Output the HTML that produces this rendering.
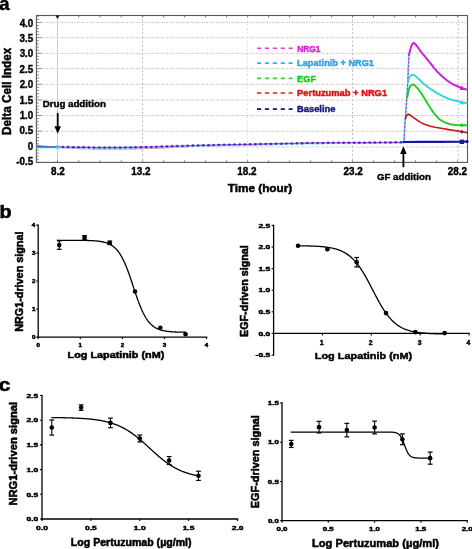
<!DOCTYPE html>
<html><head><meta charset="utf-8"><style>
html,body{margin:0;padding:0;background:#fff;}
body{width:472px;height:549px;overflow:hidden;font-family:"Liberation Sans",sans-serif;}
svg{display:block;will-change:transform;}
</style></head><body>
<svg width="472" height="549" viewBox="0 0 472 549">
<defs><filter id="soft" filterUnits="userSpaceOnUse" x="0" y="0" width="472" height="549"><feGaussianBlur stdDeviation="0.35"/></filter></defs>
<rect width="472" height="549" fill="#fff"/>
<g filter="url(#soft)">
<line x1="41.40" y1="22.40" x2="467.50" y2="22.40" stroke="#b2b2b2" stroke-width="0.85" stroke-dasharray="1.8 1.2 0.8 1.2"/>
<line x1="41.40" y1="37.70" x2="467.50" y2="37.70" stroke="#b2b2b2" stroke-width="0.85" stroke-dasharray="1.8 1.2 0.8 1.2"/>
<line x1="41.40" y1="53.30" x2="467.50" y2="53.30" stroke="#b2b2b2" stroke-width="0.85" stroke-dasharray="1.8 1.2 0.8 1.2"/>
<line x1="41.40" y1="68.60" x2="467.50" y2="68.60" stroke="#b2b2b2" stroke-width="0.85" stroke-dasharray="1.8 1.2 0.8 1.2"/>
<line x1="41.40" y1="84.30" x2="467.50" y2="84.30" stroke="#b2b2b2" stroke-width="0.85" stroke-dasharray="1.8 1.2 0.8 1.2"/>
<line x1="41.40" y1="100.00" x2="467.50" y2="100.00" stroke="#b2b2b2" stroke-width="0.85" stroke-dasharray="1.8 1.2 0.8 1.2"/>
<line x1="41.40" y1="115.50" x2="467.50" y2="115.50" stroke="#b2b2b2" stroke-width="0.85" stroke-dasharray="1.8 1.2 0.8 1.2"/>
<line x1="41.40" y1="131.20" x2="467.50" y2="131.20" stroke="#b2b2b2" stroke-width="0.85" stroke-dasharray="1.8 1.2 0.8 1.2"/>
<line x1="41.40" y1="146.90" x2="467.50" y2="146.90" stroke="#b2b2b2" stroke-width="0.85" stroke-dasharray="1.8 1.2 0.8 1.2"/>
<line x1="142.60" y1="15.50" x2="142.60" y2="162.40" stroke="#a8a8a8" stroke-width="0.9" stroke-dasharray="1.6 2.6"/>
<line x1="247.60" y1="15.50" x2="247.60" y2="162.40" stroke="#d4d4d4" stroke-width="0.9" stroke-dasharray="1.6 2.6"/>
<line x1="352.50" y1="15.50" x2="352.50" y2="162.40" stroke="#a8a8a8" stroke-width="0.9" stroke-dasharray="1.6 2.6"/>
<line x1="458.20" y1="15.50" x2="458.20" y2="162.40" stroke="#a8a8a8" stroke-width="0.9" stroke-dasharray="1.6 2.6"/>
<line x1="57.50" y1="15.50" x2="57.50" y2="162.40" stroke="#cccccc" stroke-width="1" />
<line x1="36.40" y1="162.40" x2="41.40" y2="162.40" stroke="#7a7a7a" stroke-width="0.9" />
<line x1="36.40" y1="159.30" x2="38.90" y2="159.30" stroke="#7a7a7a" stroke-width="0.9" />
<line x1="36.40" y1="156.20" x2="38.90" y2="156.20" stroke="#7a7a7a" stroke-width="0.9" />
<line x1="36.40" y1="153.10" x2="38.90" y2="153.10" stroke="#7a7a7a" stroke-width="0.9" />
<line x1="36.40" y1="150.00" x2="38.90" y2="150.00" stroke="#7a7a7a" stroke-width="0.9" />
<line x1="36.40" y1="146.90" x2="41.40" y2="146.90" stroke="#7a7a7a" stroke-width="0.9" />
<line x1="36.40" y1="143.76" x2="38.90" y2="143.76" stroke="#7a7a7a" stroke-width="0.9" />
<line x1="36.40" y1="140.62" x2="38.90" y2="140.62" stroke="#7a7a7a" stroke-width="0.9" />
<line x1="36.40" y1="137.48" x2="38.90" y2="137.48" stroke="#7a7a7a" stroke-width="0.9" />
<line x1="36.40" y1="134.34" x2="38.90" y2="134.34" stroke="#7a7a7a" stroke-width="0.9" />
<line x1="36.40" y1="131.20" x2="41.40" y2="131.20" stroke="#7a7a7a" stroke-width="0.9" />
<line x1="36.40" y1="128.06" x2="38.90" y2="128.06" stroke="#7a7a7a" stroke-width="0.9" />
<line x1="36.40" y1="124.92" x2="38.90" y2="124.92" stroke="#7a7a7a" stroke-width="0.9" />
<line x1="36.40" y1="121.78" x2="38.90" y2="121.78" stroke="#7a7a7a" stroke-width="0.9" />
<line x1="36.40" y1="118.64" x2="38.90" y2="118.64" stroke="#7a7a7a" stroke-width="0.9" />
<line x1="36.40" y1="115.50" x2="41.40" y2="115.50" stroke="#7a7a7a" stroke-width="0.9" />
<line x1="36.40" y1="112.40" x2="38.90" y2="112.40" stroke="#7a7a7a" stroke-width="0.9" />
<line x1="36.40" y1="109.30" x2="38.90" y2="109.30" stroke="#7a7a7a" stroke-width="0.9" />
<line x1="36.40" y1="106.20" x2="38.90" y2="106.20" stroke="#7a7a7a" stroke-width="0.9" />
<line x1="36.40" y1="103.10" x2="38.90" y2="103.10" stroke="#7a7a7a" stroke-width="0.9" />
<line x1="36.40" y1="100.00" x2="41.40" y2="100.00" stroke="#7a7a7a" stroke-width="0.9" />
<line x1="36.40" y1="96.86" x2="38.90" y2="96.86" stroke="#7a7a7a" stroke-width="0.9" />
<line x1="36.40" y1="93.72" x2="38.90" y2="93.72" stroke="#7a7a7a" stroke-width="0.9" />
<line x1="36.40" y1="90.58" x2="38.90" y2="90.58" stroke="#7a7a7a" stroke-width="0.9" />
<line x1="36.40" y1="87.44" x2="38.90" y2="87.44" stroke="#7a7a7a" stroke-width="0.9" />
<line x1="36.40" y1="84.30" x2="41.40" y2="84.30" stroke="#7a7a7a" stroke-width="0.9" />
<line x1="36.40" y1="81.16" x2="38.90" y2="81.16" stroke="#7a7a7a" stroke-width="0.9" />
<line x1="36.40" y1="78.02" x2="38.90" y2="78.02" stroke="#7a7a7a" stroke-width="0.9" />
<line x1="36.40" y1="74.88" x2="38.90" y2="74.88" stroke="#7a7a7a" stroke-width="0.9" />
<line x1="36.40" y1="71.74" x2="38.90" y2="71.74" stroke="#7a7a7a" stroke-width="0.9" />
<line x1="36.40" y1="68.60" x2="41.40" y2="68.60" stroke="#7a7a7a" stroke-width="0.9" />
<line x1="36.40" y1="65.54" x2="38.90" y2="65.54" stroke="#7a7a7a" stroke-width="0.9" />
<line x1="36.40" y1="62.48" x2="38.90" y2="62.48" stroke="#7a7a7a" stroke-width="0.9" />
<line x1="36.40" y1="59.42" x2="38.90" y2="59.42" stroke="#7a7a7a" stroke-width="0.9" />
<line x1="36.40" y1="56.36" x2="38.90" y2="56.36" stroke="#7a7a7a" stroke-width="0.9" />
<line x1="36.40" y1="53.30" x2="41.40" y2="53.30" stroke="#7a7a7a" stroke-width="0.9" />
<line x1="36.40" y1="50.18" x2="38.90" y2="50.18" stroke="#7a7a7a" stroke-width="0.9" />
<line x1="36.40" y1="47.06" x2="38.90" y2="47.06" stroke="#7a7a7a" stroke-width="0.9" />
<line x1="36.40" y1="43.94" x2="38.90" y2="43.94" stroke="#7a7a7a" stroke-width="0.9" />
<line x1="36.40" y1="40.82" x2="38.90" y2="40.82" stroke="#7a7a7a" stroke-width="0.9" />
<line x1="36.40" y1="37.70" x2="41.40" y2="37.70" stroke="#7a7a7a" stroke-width="0.9" />
<line x1="36.40" y1="34.64" x2="38.90" y2="34.64" stroke="#7a7a7a" stroke-width="0.9" />
<line x1="36.40" y1="31.58" x2="38.90" y2="31.58" stroke="#7a7a7a" stroke-width="0.9" />
<line x1="36.40" y1="28.52" x2="38.90" y2="28.52" stroke="#7a7a7a" stroke-width="0.9" />
<line x1="36.40" y1="25.46" x2="38.90" y2="25.46" stroke="#7a7a7a" stroke-width="0.9" />
<line x1="36.40" y1="22.40" x2="41.40" y2="22.40" stroke="#7a7a7a" stroke-width="0.9" />
<line x1="36.40" y1="19.39" x2="38.90" y2="19.39" stroke="#7a7a7a" stroke-width="0.9" />
<line x1="36.40" y1="16.28" x2="38.90" y2="16.28" stroke="#7a7a7a" stroke-width="0.9" />
<line x1="57.50" y1="162.40" x2="57.50" y2="160.40" stroke="#707070" stroke-width="0.9" />
<line x1="57.50" y1="15.50" x2="57.50" y2="17.50" stroke="#707070" stroke-width="0.9" />
<line x1="78.75" y1="162.40" x2="78.75" y2="160.40" stroke="#707070" stroke-width="0.9" />
<line x1="78.75" y1="15.50" x2="78.75" y2="17.50" stroke="#707070" stroke-width="0.9" />
<line x1="100.00" y1="162.40" x2="100.00" y2="160.40" stroke="#707070" stroke-width="0.9" />
<line x1="100.00" y1="15.50" x2="100.00" y2="17.50" stroke="#707070" stroke-width="0.9" />
<line x1="121.25" y1="162.40" x2="121.25" y2="160.40" stroke="#707070" stroke-width="0.9" />
<line x1="121.25" y1="15.50" x2="121.25" y2="17.50" stroke="#707070" stroke-width="0.9" />
<line x1="142.60" y1="162.40" x2="142.60" y2="160.40" stroke="#707070" stroke-width="0.9" />
<line x1="142.60" y1="15.50" x2="142.60" y2="17.50" stroke="#707070" stroke-width="0.9" />
<line x1="163.60" y1="162.40" x2="163.60" y2="160.40" stroke="#707070" stroke-width="0.9" />
<line x1="163.60" y1="15.50" x2="163.60" y2="17.50" stroke="#707070" stroke-width="0.9" />
<line x1="184.60" y1="162.40" x2="184.60" y2="160.40" stroke="#707070" stroke-width="0.9" />
<line x1="184.60" y1="15.50" x2="184.60" y2="17.50" stroke="#707070" stroke-width="0.9" />
<line x1="205.60" y1="162.40" x2="205.60" y2="160.40" stroke="#707070" stroke-width="0.9" />
<line x1="205.60" y1="15.50" x2="205.60" y2="17.50" stroke="#707070" stroke-width="0.9" />
<line x1="226.60" y1="162.40" x2="226.60" y2="160.40" stroke="#707070" stroke-width="0.9" />
<line x1="226.60" y1="15.50" x2="226.60" y2="17.50" stroke="#707070" stroke-width="0.9" />
<line x1="247.60" y1="162.40" x2="247.60" y2="160.40" stroke="#707070" stroke-width="0.9" />
<line x1="247.60" y1="15.50" x2="247.60" y2="17.50" stroke="#707070" stroke-width="0.9" />
<line x1="268.60" y1="162.40" x2="268.60" y2="160.40" stroke="#707070" stroke-width="0.9" />
<line x1="268.60" y1="15.50" x2="268.60" y2="17.50" stroke="#707070" stroke-width="0.9" />
<line x1="289.60" y1="162.40" x2="289.60" y2="160.40" stroke="#707070" stroke-width="0.9" />
<line x1="289.60" y1="15.50" x2="289.60" y2="17.50" stroke="#707070" stroke-width="0.9" />
<line x1="310.60" y1="162.40" x2="310.60" y2="160.40" stroke="#707070" stroke-width="0.9" />
<line x1="310.60" y1="15.50" x2="310.60" y2="17.50" stroke="#707070" stroke-width="0.9" />
<line x1="331.60" y1="162.40" x2="331.60" y2="160.40" stroke="#707070" stroke-width="0.9" />
<line x1="331.60" y1="15.50" x2="331.60" y2="17.50" stroke="#707070" stroke-width="0.9" />
<line x1="352.60" y1="162.40" x2="352.60" y2="160.40" stroke="#707070" stroke-width="0.9" />
<line x1="352.60" y1="15.50" x2="352.60" y2="17.50" stroke="#707070" stroke-width="0.9" />
<line x1="373.60" y1="162.40" x2="373.60" y2="160.40" stroke="#707070" stroke-width="0.9" />
<line x1="373.60" y1="15.50" x2="373.60" y2="17.50" stroke="#707070" stroke-width="0.9" />
<line x1="394.60" y1="162.40" x2="394.60" y2="160.40" stroke="#707070" stroke-width="0.9" />
<line x1="394.60" y1="15.50" x2="394.60" y2="17.50" stroke="#707070" stroke-width="0.9" />
<line x1="415.60" y1="162.40" x2="415.60" y2="160.40" stroke="#707070" stroke-width="0.9" />
<line x1="415.60" y1="15.50" x2="415.60" y2="17.50" stroke="#707070" stroke-width="0.9" />
<line x1="436.60" y1="162.40" x2="436.60" y2="160.40" stroke="#707070" stroke-width="0.9" />
<line x1="436.60" y1="15.50" x2="436.60" y2="17.50" stroke="#707070" stroke-width="0.9" />
<line x1="457.60" y1="162.40" x2="457.60" y2="160.40" stroke="#707070" stroke-width="0.9" />
<line x1="457.60" y1="15.50" x2="457.60" y2="17.50" stroke="#707070" stroke-width="0.9" />
<rect x="36.4" y="15.5" width="431.1" height="146.9" fill="none" stroke="#5a5a5a" stroke-width="1.1"/>
<path d="M55.3,15.5 L59.7,15.5 L57.5,19 Z" fill="#111"/>
<polyline points="36.80,145.40 37.80,145.51 38.80,145.62 39.80,145.73 40.80,145.84 41.80,145.95 42.80,146.06 43.80,146.17 44.80,146.28 45.80,146.36 46.80,146.44 47.80,146.52 48.80,146.60 49.80,146.68 50.80,146.76 51.80,146.84 52.80,146.92 53.80,147.00 54.80,147.08 55.80,147.16 56.80,147.24 57.80,147.32 58.80,147.37 59.80,147.42 60.80,147.48 61.80,147.53 62.80,147.58 63.80,147.64 64.80,147.69 65.80,147.74 66.80,147.80 67.80,147.85 68.80,147.90 69.80,147.96 70.80,148.01 71.80,148.06 72.80,148.12 73.80,148.17 74.80,148.22 75.80,148.28 76.80,148.33 77.80,148.38 78.80,148.44 79.80,148.49 80.80,148.52 81.80,148.54 82.80,148.56 83.80,148.58 84.80,148.60 85.80,148.62 86.80,148.64 87.80,148.66 88.80,148.68 89.80,148.70 90.80,148.72 91.80,148.74 92.80,148.76 93.80,148.78 94.80,148.80 95.80,148.82 96.80,148.84 97.80,148.86 98.80,148.88 99.80,148.90 100.80,148.90 101.80,148.90 102.80,148.90 103.80,148.90 104.80,148.90 105.80,148.90 106.80,148.90 107.80,148.90 108.80,148.90 109.80,148.90 110.80,148.90 111.80,148.90 112.80,148.90 113.80,148.90 114.80,148.90 115.80,148.90 116.80,148.90 117.80,148.90 118.80,148.90 119.80,148.90 120.80,148.90 121.80,148.90 122.80,148.90 123.80,148.90 124.80,148.90 125.80,148.90 126.80,148.90 127.80,148.90 128.80,148.90 129.80,148.90 130.80,148.88 131.80,148.85 132.80,148.82 133.80,148.79 134.80,148.76 135.80,148.73 136.80,148.70 137.80,148.67 138.80,148.64 139.80,148.61 140.80,148.58 141.80,148.55 142.80,148.52 143.80,148.49 144.80,148.46 145.80,148.43 146.80,148.40 147.80,148.37 148.80,148.34 149.80,148.31 150.80,148.28 151.80,148.25 152.80,148.22 153.80,148.19 154.80,148.16 155.80,148.13 156.80,148.10 157.80,148.07 158.80,148.04 159.80,148.01 160.80,147.96 161.80,147.90 162.80,147.85 163.80,147.80 164.80,147.74 165.80,147.69 166.80,147.64 167.80,147.58 168.80,147.53 169.80,147.48 170.80,147.42 171.80,147.37 172.80,147.32 173.80,147.26 174.80,147.21 175.80,147.16 176.80,147.10 177.80,147.05 178.80,147.00 179.80,146.94 180.80,146.89 181.80,146.84 182.80,146.78 183.80,146.73 184.80,146.68 185.80,146.62 186.80,146.57 187.80,146.52 188.80,146.46 189.80,146.41 190.80,146.37 191.80,146.34 192.80,146.31 193.80,146.27 194.80,146.24 195.80,146.21 196.80,146.17 197.80,146.14 198.80,146.11 199.80,146.07 200.80,146.04 201.80,146.01 202.80,145.97 203.80,145.94 204.80,145.91 205.80,145.87 206.80,145.84 207.80,145.81 208.80,145.77 209.80,145.74 210.80,145.71 211.80,145.67 212.80,145.64 213.80,145.61 214.80,145.57 215.80,145.54 216.80,145.51 217.80,145.47 218.80,145.44 219.80,145.41 220.80,145.38 221.80,145.36 222.80,145.33 223.80,145.31 224.80,145.28 225.80,145.25 226.80,145.23 227.80,145.21 228.80,145.18 229.80,145.16 230.80,145.13 231.80,145.11 232.80,145.08 233.80,145.06 234.80,145.03 235.80,145.00 236.80,144.98 237.80,144.96 238.80,144.93 239.80,144.91 240.80,144.88 241.80,144.86 242.80,144.83 243.80,144.81 244.80,144.78 245.80,144.75 246.80,144.73 247.80,144.71 248.80,144.68 249.80,144.66 250.80,144.63 251.80,144.61 252.80,144.58 253.80,144.56 254.80,144.53 255.80,144.50 256.80,144.48 257.80,144.46 258.80,144.43 259.80,144.41 260.80,144.38 261.80,144.36 262.80,144.34 263.80,144.31 264.80,144.29 265.80,144.27 266.80,144.25 267.80,144.22 268.80,144.20 269.80,144.18 270.80,144.16 271.80,144.13 272.80,144.11 273.80,144.09 274.80,144.07 275.80,144.04 276.80,144.02 277.80,144.00 278.80,143.98 279.80,143.95 280.80,143.93 281.80,143.91 282.80,143.89 283.80,143.86 284.80,143.84 285.80,143.82 286.80,143.80 287.80,143.77 288.80,143.75 289.80,143.73 290.80,143.71 291.80,143.68 292.80,143.66 293.80,143.64 294.80,143.62 295.80,143.59 296.80,143.57 297.80,143.55 298.80,143.53 299.80,143.50 300.80,143.49 301.80,143.48 302.80,143.48 303.80,143.47 304.80,143.46 305.80,143.45 306.80,143.44 307.80,143.43 308.80,143.42 309.80,143.41 310.80,143.41 311.80,143.40 312.80,143.39 313.80,143.38 314.80,143.37 315.80,143.36 316.80,143.35 317.80,143.34 318.80,143.34 319.80,143.33 320.80,143.32 321.80,143.31 322.80,143.30 323.80,143.29 324.80,143.28 325.80,143.27 326.80,143.27 327.80,143.26 328.80,143.25 329.80,143.24 330.80,143.23 331.80,143.22 332.80,143.21 333.80,143.20 334.80,143.20 335.80,143.19 336.80,143.18 337.80,143.17 338.80,143.16 339.80,143.15 340.80,143.14 341.80,143.13 342.80,143.13 343.80,143.12 344.80,143.11 345.80,143.10 346.80,143.09 347.80,143.08 348.80,143.07 349.80,143.06 350.80,143.06 351.80,143.05 352.80,143.04 353.80,143.03 354.80,143.02 355.80,143.01 356.80,143.00 357.80,142.99 358.80,142.99 359.80,142.98 360.80,142.97 361.80,142.96 362.80,142.95 363.80,142.94 364.80,142.93 365.80,142.93 366.80,142.92 367.80,142.91 368.80,142.90 369.80,142.89 370.80,142.88 371.80,142.87 372.80,142.86 373.80,142.86 374.80,142.85 375.80,142.84 376.80,142.83 377.80,142.82 378.80,142.81 379.80,142.80 380.80,142.79 381.80,142.79 382.80,142.78 383.80,142.77 384.80,142.76 385.80,142.75 386.80,142.74 387.80,142.73 388.80,142.72 389.80,142.72 390.80,142.71 391.80,142.70 392.80,142.69 393.80,142.68 394.80,142.67 395.80,142.66 396.80,142.65 397.80,142.65 398.80,142.64 399.80,142.63 400.80,142.62 401.80,142.61 402.80,142.60" fill="none" stroke="#ec6a78" stroke-width="1.3" stroke-linejoin="round" stroke-linecap="round" />
<polyline points="36.80,147.80 37.80,147.80 38.80,147.79 39.80,147.79 40.80,147.78 41.80,147.78 42.80,147.77 43.80,147.77 44.80,147.76 45.80,147.76 46.80,147.75 47.80,147.75 48.80,147.74 49.80,147.74 50.80,147.73 51.80,147.73 52.80,147.72 53.80,147.72 54.80,147.71 55.80,147.71 56.80,147.70 57.80,147.71 58.80,147.72 59.80,147.74 60.80,147.76 61.80,147.78 62.80,147.79 63.80,147.81 64.80,147.83 65.80,147.85 66.80,147.87 67.80,147.88 68.80,147.90 69.80,147.92 70.80,147.94 71.80,147.95 72.80,147.97 73.80,147.99 74.80,148.01 75.80,148.03 76.80,148.04 77.80,148.06 78.80,148.08 79.80,148.10 80.80,148.12 81.80,148.13 82.80,148.15 83.80,148.17 84.80,148.19 85.80,148.21 86.80,148.23 87.80,148.25 88.80,148.27 89.80,148.28 90.80,148.30 91.80,148.32 92.80,148.34 93.80,148.36 94.80,148.38 95.80,148.40 96.80,148.40 97.80,148.40 98.80,148.40 99.80,148.40 100.80,148.40 101.80,148.40 102.80,148.40 103.80,148.40 104.80,148.40 105.80,148.40 106.80,148.40 107.80,148.40 108.80,148.40 109.80,148.40 110.80,148.40 111.80,148.40 112.80,148.40 113.80,148.40 114.80,148.40 115.80,148.40 116.80,148.40 117.80,148.40 118.80,148.40 119.80,148.40 120.80,148.38 121.80,148.36 122.80,148.34 123.80,148.32 124.80,148.30 125.80,148.28 126.80,148.26 127.80,148.24 128.80,148.22 129.80,148.20 130.80,148.18 131.80,148.16 132.80,148.14 133.80,148.12 134.80,148.10 135.80,148.08 136.80,148.06 137.80,148.04 138.80,148.02 139.80,148.00 140.80,147.98 141.80,147.96 142.80,147.94 143.80,147.92 144.80,147.90 145.80,147.88 146.80,147.86 147.80,147.84 148.80,147.82 149.80,147.80 150.80,147.77 151.80,147.74 152.80,147.71 153.80,147.67 154.80,147.64 155.80,147.61 156.80,147.57 157.80,147.54 158.80,147.51 159.80,147.47 160.80,147.44 161.80,147.41 162.80,147.37 163.80,147.34 164.80,147.31 165.80,147.27 166.80,147.24 167.80,147.21 168.80,147.17 169.80,147.14 170.80,147.11 171.80,147.07 172.80,147.04 173.80,147.01 174.80,146.97 175.80,146.94 176.80,146.91 177.80,146.87 178.80,146.84 179.80,146.81 180.80,146.78 181.80,146.75 182.80,146.72 183.80,146.69 184.80,146.66 185.80,146.63 186.80,146.60 187.80,146.57 188.80,146.54 189.80,146.51 190.80,146.48 191.80,146.45 192.80,146.42 193.80,146.39 194.80,146.36 195.80,146.33 196.80,146.30 197.80,146.27 198.80,146.24 199.80,146.21 200.80,146.18 201.80,146.15 202.80,146.12 203.80,146.09 204.80,146.06 205.80,146.03 206.80,146.00 207.80,145.97 208.80,145.94 209.80,145.91 210.80,145.88 211.80,145.86 212.80,145.84 213.80,145.82 214.80,145.80 215.80,145.78 216.80,145.76 217.80,145.74 218.80,145.72 219.80,145.70 220.80,145.68 221.80,145.66 222.80,145.64 223.80,145.62 224.80,145.60 225.80,145.58 226.80,145.56 227.80,145.54 228.80,145.52 229.80,145.50 230.80,145.48 231.80,145.46 232.80,145.44 233.80,145.42 234.80,145.40 235.80,145.38 236.80,145.36 237.80,145.34 238.80,145.32 239.80,145.30 240.80,145.28 241.80,145.26 242.80,145.24 243.80,145.22 244.80,145.20 245.80,145.18 246.80,145.16 247.80,145.14 248.80,145.12 249.80,145.10 250.80,145.08 251.80,145.06 252.80,145.04 253.80,145.02 254.80,145.00 255.80,144.98 256.80,144.96 257.80,144.94 258.80,144.92 259.80,144.90 260.80,144.88 261.80,144.86 262.80,144.84 263.80,144.82 264.80,144.80 265.80,144.78 266.80,144.76 267.80,144.74 268.80,144.72 269.80,144.70 270.80,144.68 271.80,144.66 272.80,144.63 273.80,144.61 274.80,144.59 275.80,144.56 276.80,144.54 277.80,144.52 278.80,144.49 279.80,144.47 280.80,144.45 281.80,144.42 282.80,144.40 283.80,144.38 284.80,144.35 285.80,144.33 286.80,144.31 287.80,144.28 288.80,144.26 289.80,144.24 290.80,144.21 291.80,144.19 292.80,144.17 293.80,144.14 294.80,144.12 295.80,144.10 296.80,144.07 297.80,144.05 298.80,144.03 299.80,144.00 300.80,143.99 301.80,143.98 302.80,143.96 303.80,143.95 304.80,143.94 305.80,143.92 306.80,143.91 307.80,143.90 308.80,143.88 309.80,143.87 310.80,143.86 311.80,143.84 312.80,143.83 313.80,143.82 314.80,143.80 315.80,143.79 316.80,143.78 317.80,143.76 318.80,143.75 319.80,143.74 320.80,143.72 321.80,143.71 322.80,143.70 323.80,143.68 324.80,143.67 325.80,143.66 326.80,143.64 327.80,143.63 328.80,143.62 329.80,143.60 330.80,143.60 331.80,143.59 332.80,143.59 333.80,143.58 334.80,143.58 335.80,143.57 336.80,143.57 337.80,143.56 338.80,143.56 339.80,143.55 340.80,143.55 341.80,143.54 342.80,143.54 343.80,143.53 344.80,143.53 345.80,143.52 346.80,143.52 347.80,143.51 348.80,143.51 349.80,143.50 350.80,143.50 351.80,143.49 352.80,143.49 353.80,143.48 354.80,143.48 355.80,143.47 356.80,143.47 357.80,143.46 358.80,143.46 359.80,143.45 360.80,143.45 361.80,143.44 362.80,143.44 363.80,143.43 364.80,143.43 365.80,143.42 366.80,143.42 367.80,143.41 368.80,143.41 369.80,143.40 370.80,143.39 371.80,143.38 372.80,143.37 373.80,143.37 374.80,143.36 375.80,143.35 376.80,143.34 377.80,143.33 378.80,143.32 379.80,143.31 380.80,143.30 381.80,143.29 382.80,143.28 383.80,143.27 384.80,143.27 385.80,143.26 386.80,143.25 387.80,143.24 388.80,143.23 389.80,143.22 390.80,143.21 391.80,143.20 392.80,143.19 393.80,143.18 394.80,143.17 395.80,143.17 396.80,143.16 397.80,143.15 398.80,143.14 399.80,143.13 400.80,143.12 401.80,143.11 402.80,143.10" fill="none" stroke="#a6eaf8" stroke-width="1.4" stroke-linejoin="round" stroke-linecap="round" />
<polyline points="36.80,146.90 57.50,147.00" fill="none" stroke="#3a6ad0" stroke-width="1.6" stroke-linejoin="round" stroke-linecap="round" />
<polyline points="58.80,146.92 59.80,146.94 60.80,146.96 61.80,146.98 62.80,146.99 63.80,147.01 64.80,147.03 65.80,147.05 66.80,147.07 67.80,147.08 68.80,147.10 69.80,147.12 70.80,147.14 71.80,147.15 72.80,147.17 73.80,147.19 74.80,147.21 75.80,147.23 76.80,147.24 77.80,147.26 78.80,147.28 79.80,147.30 80.80,147.31 81.80,147.33 82.80,147.35 83.80,147.37 84.80,147.39 85.80,147.41 86.80,147.43 87.80,147.45 88.80,147.47 89.80,147.48 90.80,147.50 91.80,147.52 92.80,147.54 93.80,147.56 94.80,147.58 95.80,147.60 96.80,147.60 97.80,147.60 98.80,147.60 99.80,147.60 100.80,147.60 101.80,147.60 102.80,147.60 103.80,147.60 104.80,147.60 105.80,147.60 106.80,147.60 107.80,147.60 108.80,147.60 109.80,147.60 110.80,147.60 111.80,147.60 112.80,147.60 113.80,147.60 114.80,147.60 115.80,147.60 116.80,147.60 117.80,147.60 118.80,147.60 119.80,147.60 120.80,147.58 121.80,147.56 122.80,147.54 123.80,147.52 124.80,147.50 125.80,147.48 126.80,147.46 127.80,147.44 128.80,147.42 129.80,147.40 130.80,147.38 131.80,147.36 132.80,147.34 133.80,147.32 134.80,147.30 135.80,147.28 136.80,147.26 137.80,147.24 138.80,147.22 139.80,147.20 140.80,147.18 141.80,147.16 142.80,147.14 143.80,147.12 144.80,147.10 145.80,147.08 146.80,147.06 147.80,147.04 148.80,147.02 149.80,147.00 150.80,146.97 151.80,146.94 152.80,146.91 153.80,146.87 154.80,146.84 155.80,146.81 156.80,146.77 157.80,146.74 158.80,146.71 159.80,146.67 160.80,146.64 161.80,146.61 162.80,146.57 163.80,146.54 164.80,146.51 165.80,146.47 166.80,146.44 167.80,146.41 168.80,146.37 169.80,146.34 170.80,146.31 171.80,146.27 172.80,146.24 173.80,146.21 174.80,146.17 175.80,146.14 176.80,146.11 177.80,146.07 178.80,146.04 179.80,146.01 180.80,145.98 181.80,145.95 182.80,145.92 183.80,145.89 184.80,145.86 185.80,145.83 186.80,145.80 187.80,145.77 188.80,145.74 189.80,145.71 190.80,145.68 191.80,145.65 192.80,145.62 193.80,145.59 194.80,145.56 195.80,145.53 196.80,145.50 197.80,145.47 198.80,145.44 199.80,145.41 200.80,145.38 201.80,145.35 202.80,145.32 203.80,145.29 204.80,145.26 205.80,145.23 206.80,145.20 207.80,145.17 208.80,145.14 209.80,145.11 210.80,145.08 211.80,145.06 212.80,145.04 213.80,145.02 214.80,145.00 215.80,144.98 216.80,144.96 217.80,144.94 218.80,144.92 219.80,144.90 220.80,144.88 221.80,144.86 222.80,144.84 223.80,144.82 224.80,144.80 225.80,144.78 226.80,144.76 227.80,144.74 228.80,144.72 229.80,144.70 230.80,144.68 231.80,144.66 232.80,144.64 233.80,144.62 234.80,144.60 235.80,144.58 236.80,144.56 237.80,144.54 238.80,144.52 239.80,144.50 240.80,144.48 241.80,144.46 242.80,144.44 243.80,144.42 244.80,144.40 245.80,144.38 246.80,144.36 247.80,144.34 248.80,144.32 249.80,144.30 250.80,144.28 251.80,144.26 252.80,144.24 253.80,144.22 254.80,144.20 255.80,144.18 256.80,144.16 257.80,144.14 258.80,144.12 259.80,144.10 260.80,144.08 261.80,144.06 262.80,144.04 263.80,144.02 264.80,144.00 265.80,143.98 266.80,143.96 267.80,143.94 268.80,143.92 269.80,143.90 270.80,143.88 271.80,143.86 272.80,143.83 273.80,143.81 274.80,143.79 275.80,143.76 276.80,143.74 277.80,143.72 278.80,143.69 279.80,143.67 280.80,143.65 281.80,143.62 282.80,143.60 283.80,143.58 284.80,143.55 285.80,143.53 286.80,143.51 287.80,143.48 288.80,143.46 289.80,143.44 290.80,143.41 291.80,143.39 292.80,143.37 293.80,143.34 294.80,143.32 295.80,143.30 296.80,143.27 297.80,143.25 298.80,143.23 299.80,143.20 300.80,143.19 301.80,143.18 302.80,143.16 303.80,143.15 304.80,143.14 305.80,143.12 306.80,143.11 307.80,143.10 308.80,143.08 309.80,143.07 310.80,143.06 311.80,143.04 312.80,143.03 313.80,143.02 314.80,143.00 315.80,142.99 316.80,142.98 317.80,142.96 318.80,142.95 319.80,142.94 320.80,142.92 321.80,142.91 322.80,142.90 323.80,142.88 324.80,142.87 325.80,142.86 326.80,142.84 327.80,142.83 328.80,142.82 329.80,142.80 330.80,142.80 331.80,142.79 332.80,142.79 333.80,142.78 334.80,142.78 335.80,142.77 336.80,142.77 337.80,142.76 338.80,142.76 339.80,142.75 340.80,142.75 341.80,142.74 342.80,142.74 343.80,142.73 344.80,142.73 345.80,142.72 346.80,142.72 347.80,142.71 348.80,142.71 349.80,142.70 350.80,142.70 351.80,142.69 352.80,142.69 353.80,142.68 354.80,142.68 355.80,142.67 356.80,142.67 357.80,142.66 358.80,142.66 359.80,142.65 360.80,142.65 361.80,142.64 362.80,142.64 363.80,142.63 364.80,142.63 365.80,142.62 366.80,142.62 367.80,142.61 368.80,142.61 369.80,142.60 370.80,142.59 371.80,142.58 372.80,142.57 373.80,142.57 374.80,142.56 375.80,142.55 376.80,142.54 377.80,142.53 378.80,142.52 379.80,142.51 380.80,142.50 381.80,142.49 382.80,142.48 383.80,142.47 384.80,142.47 385.80,142.46 386.80,142.45 387.80,142.44 388.80,142.43 389.80,142.42 390.80,142.41 391.80,142.40 392.80,142.39 393.80,142.38 394.80,142.37 395.80,142.37 396.80,142.36 397.80,142.35 398.80,142.34 399.80,142.33 400.80,142.32 401.80,142.31 402.80,142.30" fill="none" stroke="#a450dc" stroke-width="1.2" stroke-linejoin="round" stroke-linecap="round" />
<circle cx="62.90" cy="147.00" r="1.25" fill="#3a2cc0"/>
<circle cx="68.10" cy="147.09" r="1.25" fill="#3a2cc0"/>
<circle cx="73.30" cy="147.18" r="1.25" fill="#3a2cc0"/>
<circle cx="78.50" cy="147.27" r="1.25" fill="#3a2cc0"/>
<circle cx="83.70" cy="147.37" r="1.25" fill="#3a2cc0"/>
<circle cx="88.90" cy="147.47" r="1.25" fill="#3a2cc0"/>
<circle cx="94.10" cy="147.56" r="1.25" fill="#3a2cc0"/>
<circle cx="99.30" cy="147.60" r="1.25" fill="#3a2cc0"/>
<circle cx="104.50" cy="147.60" r="1.25" fill="#3a2cc0"/>
<circle cx="109.70" cy="147.60" r="1.25" fill="#3a2cc0"/>
<circle cx="114.90" cy="147.60" r="1.25" fill="#3a2cc0"/>
<circle cx="120.10" cy="147.60" r="1.25" fill="#3a2cc0"/>
<circle cx="125.30" cy="147.49" r="1.25" fill="#3a2cc0"/>
<circle cx="130.50" cy="147.39" r="1.25" fill="#3a2cc0"/>
<circle cx="135.70" cy="147.29" r="1.25" fill="#3a2cc0"/>
<circle cx="140.90" cy="147.18" r="1.25" fill="#3a2cc0"/>
<circle cx="146.10" cy="147.08" r="1.25" fill="#3a2cc0"/>
<circle cx="151.30" cy="146.96" r="1.25" fill="#3a2cc0"/>
<circle cx="156.50" cy="146.78" r="1.25" fill="#3a2cc0"/>
<circle cx="161.70" cy="146.61" r="1.25" fill="#3a2cc0"/>
<circle cx="166.90" cy="146.44" r="1.25" fill="#3a2cc0"/>
<circle cx="172.10" cy="146.26" r="1.25" fill="#3a2cc0"/>
<circle cx="177.30" cy="146.09" r="1.25" fill="#3a2cc0"/>
<circle cx="182.50" cy="145.93" r="1.25" fill="#3a2cc0"/>
<circle cx="187.70" cy="145.77" r="1.25" fill="#3a2cc0"/>
<circle cx="192.90" cy="145.61" r="1.25" fill="#3a2cc0"/>
<circle cx="198.10" cy="145.46" r="1.25" fill="#3a2cc0"/>
<circle cx="203.30" cy="145.30" r="1.25" fill="#3a2cc0"/>
<circle cx="208.50" cy="145.15" r="1.25" fill="#3a2cc0"/>
<circle cx="213.70" cy="145.03" r="1.25" fill="#3a2cc0"/>
<circle cx="218.90" cy="144.92" r="1.25" fill="#3a2cc0"/>
<circle cx="224.10" cy="144.82" r="1.25" fill="#3a2cc0"/>
<circle cx="229.30" cy="144.71" r="1.25" fill="#3a2cc0"/>
<circle cx="234.50" cy="144.61" r="1.25" fill="#3a2cc0"/>
<circle cx="239.70" cy="144.51" r="1.25" fill="#3a2cc0"/>
<circle cx="244.90" cy="144.40" r="1.25" fill="#3a2cc0"/>
<circle cx="250.10" cy="144.30" r="1.25" fill="#3a2cc0"/>
<circle cx="255.30" cy="144.19" r="1.25" fill="#3a2cc0"/>
<circle cx="260.50" cy="144.09" r="1.25" fill="#3a2cc0"/>
<circle cx="265.70" cy="143.99" r="1.25" fill="#3a2cc0"/>
<circle cx="270.90" cy="143.88" r="1.25" fill="#3a2cc0"/>
<circle cx="276.10" cy="143.76" r="1.25" fill="#3a2cc0"/>
<circle cx="281.30" cy="143.64" r="1.25" fill="#3a2cc0"/>
<circle cx="286.50" cy="143.51" r="1.25" fill="#3a2cc0"/>
<circle cx="291.70" cy="143.39" r="1.25" fill="#3a2cc0"/>
<circle cx="296.90" cy="143.27" r="1.25" fill="#3a2cc0"/>
<circle cx="302.10" cy="143.17" r="1.25" fill="#3a2cc0"/>
<circle cx="307.30" cy="143.10" r="1.25" fill="#3a2cc0"/>
<circle cx="312.50" cy="143.03" r="1.25" fill="#3a2cc0"/>
<circle cx="317.70" cy="142.96" r="1.25" fill="#3a2cc0"/>
<circle cx="322.90" cy="142.89" r="1.25" fill="#3a2cc0"/>
<circle cx="328.10" cy="142.83" r="1.25" fill="#3a2cc0"/>
<circle cx="333.30" cy="142.78" r="1.25" fill="#3a2cc0"/>
<circle cx="338.50" cy="142.76" r="1.25" fill="#3a2cc0"/>
<circle cx="343.70" cy="142.73" r="1.25" fill="#3a2cc0"/>
<circle cx="348.90" cy="142.71" r="1.25" fill="#3a2cc0"/>
<circle cx="354.10" cy="142.68" r="1.25" fill="#3a2cc0"/>
<circle cx="359.30" cy="142.65" r="1.25" fill="#3a2cc0"/>
<circle cx="364.50" cy="142.63" r="1.25" fill="#3a2cc0"/>
<circle cx="369.70" cy="142.60" r="1.25" fill="#3a2cc0"/>
<circle cx="374.90" cy="142.56" r="1.25" fill="#3a2cc0"/>
<circle cx="380.10" cy="142.51" r="1.25" fill="#3a2cc0"/>
<circle cx="385.30" cy="142.46" r="1.25" fill="#3a2cc0"/>
<circle cx="390.50" cy="142.41" r="1.25" fill="#3a2cc0"/>
<circle cx="395.70" cy="142.37" r="1.25" fill="#3a2cc0"/>
<circle cx="400.90" cy="142.32" r="1.25" fill="#3a2cc0"/>
<rect x="56.1" y="145.5" width="2.9" height="2.9" fill="#38c0e8"/>
<polyline points="403.00,142.30 404.00,141.40 404.90,124.00 405.60,115.00 406.60,100.70 407.30,90.00 407.90,80.00 408.30,68.00 409.00,56.00 409.80,50.50" fill="none" stroke="#4cd4f0" stroke-width="1.6" stroke-linejoin="round" stroke-linecap="round" />
<polyline points="403.00,142.30 404.00,141.40 404.90,124.00 405.60,115.00 406.60,100.70 407.30,90.00 407.90,80.00 408.30,68.00 409.00,56.00 409.80,50.50" fill="none" stroke="#d020d8" stroke-width="1.1" stroke-linejoin="round" stroke-linecap="round" stroke-dasharray="1.2 2.6"/>
<circle cx="403.6" cy="141.9" r="1.6" fill="#40d0f0"/>
<polyline points="403.50,142.00 420.00,141.90 440.00,141.90 458.00,141.70 467.00,141.60" fill="none" stroke="#1414a0" stroke-width="2.1" stroke-linejoin="round" stroke-linecap="round" />
<polyline points="405.50,118.50 406.50,115.50 407.60,114.40 408.50,114.30 410.00,115.20 412.20,116.60 415.00,118.60 418.30,120.90 421.00,122.60 424.40,124.20 427.50,125.30 430.50,126.20 435.00,127.20 439.70,128.00 444.00,128.80 448.80,129.60 453.00,130.30 458.00,131.10 461.80,131.80 467.00,132.60" fill="none" stroke="#c41616" stroke-width="1.6" stroke-linejoin="round" stroke-linecap="round" />
<polyline points="407.20,97.60 408.70,89.50 410.20,86.20 411.60,84.80 413.10,84.40 415.00,85.60 418.30,89.20 421.00,93.00 424.40,98.30 427.50,103.60 430.50,108.20 433.50,112.60 436.60,116.40 439.50,119.20 442.70,121.40 446.00,123.00 450.30,124.20 454.00,124.80 458.00,125.10 467.00,125.30" fill="none" stroke="#22cc22" stroke-width="1.9" stroke-linejoin="round" stroke-linecap="round" />
<polyline points="407.90,82.00 408.60,79.50 409.60,77.20 411.00,75.30 412.80,74.70 415.00,75.60 418.30,78.60 422.00,82.20 425.90,85.60 429.70,88.50 433.60,90.90 438.00,93.60 442.70,96.20 447.00,98.20 451.90,99.90 458.00,101.40 461.80,102.30 467.00,103.20" fill="none" stroke="#30d6dc" stroke-width="1.9" stroke-linejoin="round" stroke-linecap="round" />
<polyline points="409.00,55.00 409.90,51.00 411.20,46.40 412.40,43.80 413.70,42.90 415.50,44.20 418.30,48.00 421.00,51.80 424.40,55.80 427.50,59.60 430.50,63.40 434.00,67.80 438.10,72.60 442.00,76.30 445.80,79.50 449.50,82.20 453.40,84.50 458.00,86.50 461.80,88.00 467.00,89.60" fill="none" stroke="#cc20d8" stroke-width="2.0" stroke-linejoin="round" stroke-linecap="round" />
<path d="M459.5,89.9 L461.8,85.6 L464.1,89.9 Z" fill="#cc14d4"/>
<path d="M459.5,104.2 L461.8,99.9 L464.1,104.2 Z" fill="#30d6dc"/>
<circle cx="461.8" cy="125.3" r="1.8" fill="#22cc22"/>
<path d="M459.8,131.8 L461.8,129.8 L463.8,131.8 L461.8,133.8 Z" fill="#a01818"/>
<rect x="459.6" y="139.6" width="4.4" height="4.4" fill="#1414a0"/>
<path d="M465,141.6 L467,139.8 L469,141.6 L467,143.4 Z" fill="#1414a0"/>
<line x1="257.00" y1="48.30" x2="292.60" y2="48.30" stroke="#d83ed8" stroke-width="1.6" stroke-dasharray="4.2 3.7"/>
<text font-family="Liberation Sans" font-weight="bold" font-size="9.3" fill="#d81ed8" stroke="#d81ed8" stroke-width="0.45" stroke-linejoin="round" transform="translate(297.16,51.60) scale(0.8959,1)">NRG1</text>
<line x1="257.00" y1="63.10" x2="292.60" y2="63.10" stroke="#34b0e8" stroke-width="1.6" stroke-dasharray="4.2 3.7"/>
<text font-family="Liberation Sans" font-weight="bold" font-size="9.3" fill="#2ea4e0" stroke="#2ea4e0" stroke-width="0.45" stroke-linejoin="round" transform="translate(297.10,66.40) scale(0.9891,1)">Lapatinib + NRG1</text>
<line x1="257.00" y1="78.40" x2="292.60" y2="78.40" stroke="#40d040" stroke-width="1.6" stroke-dasharray="4.2 3.7"/>
<text font-family="Liberation Sans" font-weight="bold" font-size="9.3" fill="#1ec81e" stroke="#1ec81e" stroke-width="0.45" stroke-linejoin="round" transform="translate(297.10,81.70) scale(1.0000,1)">EGF</text>
<line x1="257.00" y1="93.00" x2="292.60" y2="93.00" stroke="#e01818" stroke-width="1.6" stroke-dasharray="4.2 3.7"/>
<text font-family="Liberation Sans" font-weight="bold" font-size="9.3" fill="#e00c0c" stroke="#e00c0c" stroke-width="0.45" stroke-linejoin="round" transform="translate(297.09,96.30) scale(1.0043,1)">Pertuzumab + NRG1</text>
<line x1="257.00" y1="109.10" x2="292.60" y2="109.10" stroke="#16168a" stroke-width="1.6" stroke-dasharray="4.2 3.7"/>
<text font-family="Liberation Sans" font-weight="bold" font-size="9.3" fill="#16168a" stroke="#16168a" stroke-width="0.45" stroke-linejoin="round" transform="translate(297.10,112.40) scale(1.0000,1)">Baseline</text>
<line x1="57.70" y1="112.90" x2="57.70" y2="127.50" stroke="#000" stroke-width="1.8" />
<path d="M54.4,126.2 L61,126.2 L57.7,133.8 Z" fill="#000"/>
<line x1="403.40" y1="153.00" x2="403.40" y2="167.20" stroke="#000" stroke-width="1.8" />
<path d="M400.1,154 L406.7,154 L403.4,146.3 Z" fill="#000"/>
<text font-family="Liberation Sans" font-weight="bold" font-size="18.721" fill="#000" transform="translate(-0.83,9.89) scale(0.9880,1)"  stroke="#000" stroke-width="0.45" stroke-linejoin="round">a</text>
<text font-family="Liberation Sans" font-weight="bold" font-size="8.427" fill="#000" transform="translate(42.64,106.81) scale(1.1550,1)"  stroke="#000" stroke-width="0.4" stroke-linejoin="round">Drug addition</text>
<text font-family="Liberation Sans" font-weight="bold" font-size="8.844" fill="#000" transform="translate(376.91,179.61) scale(1.0986,1)"  stroke="#000" stroke-width="0.4" stroke-linejoin="round">GF addition</text>
<text font-family="Liberation Sans" font-weight="bold" font-size="10.456" fill="#000" transform="translate(227.71,191.61) scale(1.1285,1)"  stroke="#000" stroke-width="0.45" stroke-linejoin="round">Time (hour)</text>
<text font-family="Liberation Sans" font-weight="bold" font-size="13.197" fill="#000" transform="translate(10.82,134.94) rotate(-90) scale(0.8873,1)"  stroke="#000" stroke-width="0.5" stroke-linejoin="round">Delta Cell Index</text>
<text font-family="Liberation Sans" font-weight="bold" font-size="10.000" fill="#000" transform="translate(19.67,26.59) scale(0.9800,1)"  stroke="#000" stroke-width="0.4" stroke-linejoin="round">4.0</text>
<text font-family="Liberation Sans" font-weight="bold" font-size="10.000" fill="#000" transform="translate(19.55,41.99) scale(0.9800,1)"  stroke="#000" stroke-width="0.4" stroke-linejoin="round">3.5</text>
<text font-family="Liberation Sans" font-weight="bold" font-size="10.000" fill="#000" transform="translate(19.67,57.40) scale(0.9800,1)"  stroke="#000" stroke-width="0.4" stroke-linejoin="round">3.0</text>
<text font-family="Liberation Sans" font-weight="bold" font-size="10.000" fill="#000" transform="translate(19.55,72.82) scale(0.9800,1)"  stroke="#000" stroke-width="0.4" stroke-linejoin="round">2.5</text>
<text font-family="Liberation Sans" font-weight="bold" font-size="10.000" fill="#000" transform="translate(19.67,88.23) scale(0.9800,1)"  stroke="#000" stroke-width="0.4" stroke-linejoin="round">2.0</text>
<text font-family="Liberation Sans" font-weight="bold" font-size="10.000" fill="#000" transform="translate(19.55,103.59) scale(0.9800,1)"  stroke="#000" stroke-width="0.4" stroke-linejoin="round">1.5</text>
<text font-family="Liberation Sans" font-weight="bold" font-size="10.000" fill="#000" transform="translate(19.67,119.05) scale(0.9800,1)"  stroke="#000" stroke-width="0.4" stroke-linejoin="round">1.0</text>
<text font-family="Liberation Sans" font-weight="bold" font-size="10.000" fill="#000" transform="translate(19.55,134.46) scale(0.9800,1)"  stroke="#000" stroke-width="0.4" stroke-linejoin="round">0.5</text>
<text font-family="Liberation Sans" font-weight="bold" font-size="10.000" fill="#000" transform="translate(27.85,149.87) scale(0.9800,1)"  stroke="#000" stroke-width="0.4" stroke-linejoin="round">0</text>
<text font-family="Liberation Sans" font-weight="bold" font-size="10.000" fill="#000" transform="translate(16.29,165.28) scale(0.9800,1)"  stroke="#000" stroke-width="0.4" stroke-linejoin="round">-0.5</text>
<text font-family="Liberation Sans" font-weight="bold" font-size="10.000" fill="#000" transform="translate(51.01,174.64) scale(0.9900,1)"  stroke="#000" stroke-width="0.4" stroke-linejoin="round">8.2</text>
<text font-family="Liberation Sans" font-weight="bold" font-size="10.000" fill="#000" transform="translate(131.16,174.62) scale(0.9900,1)"  stroke="#000" stroke-width="0.4" stroke-linejoin="round">13.2</text>
<text font-family="Liberation Sans" font-weight="bold" font-size="10.000" fill="#000" transform="translate(237.16,174.64) scale(0.9900,1)"  stroke="#000" stroke-width="0.4" stroke-linejoin="round">18.2</text>
<text font-family="Liberation Sans" font-weight="bold" font-size="10.000" fill="#000" transform="translate(343.60,174.62) scale(0.9900,1)"  stroke="#000" stroke-width="0.4" stroke-linejoin="round">23.2</text>
<text font-family="Liberation Sans" font-weight="bold" font-size="10.000" fill="#000" transform="translate(447.80,174.64) scale(0.9900,1)"  stroke="#000" stroke-width="0.4" stroke-linejoin="round">28.2</text>
<line x1="38.20" y1="337.10" x2="38.20" y2="225.10" stroke="#000" stroke-width="1.3" stroke-linecap="square"/>
<line x1="38.20" y1="337.10" x2="206.60" y2="337.10" stroke="#000" stroke-width="1.3" stroke-linecap="square"/>
<line x1="36.20" y1="337.10" x2="38.20" y2="337.10" stroke="#000" stroke-width="1.1" />
<line x1="36.20" y1="309.10" x2="38.20" y2="309.10" stroke="#000" stroke-width="1.1" />
<line x1="36.20" y1="281.10" x2="38.20" y2="281.10" stroke="#000" stroke-width="1.1" />
<line x1="36.20" y1="253.10" x2="38.20" y2="253.10" stroke="#000" stroke-width="1.1" />
<line x1="36.20" y1="225.10" x2="38.20" y2="225.10" stroke="#000" stroke-width="1.1" />
<line x1="38.20" y1="337.10" x2="38.20" y2="339.10" stroke="#000" stroke-width="1.1" />
<line x1="80.30" y1="337.10" x2="80.30" y2="339.10" stroke="#000" stroke-width="1.1" />
<line x1="122.40" y1="337.10" x2="122.40" y2="339.10" stroke="#000" stroke-width="1.1" />
<line x1="164.50" y1="337.10" x2="164.50" y2="339.10" stroke="#000" stroke-width="1.1" />
<line x1="206.60" y1="337.10" x2="206.60" y2="339.10" stroke="#000" stroke-width="1.1" />
<text font-family="Liberation Sans" font-weight="bold" font-size="5.000" fill="#000" transform="translate(36.47,347.02) scale(1.2500,1)"  stroke="#000" stroke-width="0.45" stroke-linejoin="round">0</text>
<text font-family="Liberation Sans" font-weight="bold" font-size="5.000" fill="#000" transform="translate(78.46,347.02) scale(1.2500,1)"  stroke="#000" stroke-width="0.45" stroke-linejoin="round">1</text>
<text font-family="Liberation Sans" font-weight="bold" font-size="5.000" fill="#000" transform="translate(120.68,347.04) scale(1.2500,1)"  stroke="#000" stroke-width="0.45" stroke-linejoin="round">2</text>
<text font-family="Liberation Sans" font-weight="bold" font-size="5.000" fill="#000" transform="translate(162.80,347.01) scale(1.2500,1)"  stroke="#000" stroke-width="0.45" stroke-linejoin="round">3</text>
<text font-family="Liberation Sans" font-weight="bold" font-size="5.000" fill="#000" transform="translate(204.83,347.02) scale(1.2500,1)"  stroke="#000" stroke-width="0.45" stroke-linejoin="round">4</text>
<text font-family="Liberation Sans" font-weight="bold" font-size="5.000" fill="#000" transform="translate(32.08,339.02) scale(1.2500,1)"  stroke="#000" stroke-width="0.45" stroke-linejoin="round">0</text>
<text font-family="Liberation Sans" font-weight="bold" font-size="5.000" fill="#000" transform="translate(32.00,311.02) scale(1.2500,1)"  stroke="#000" stroke-width="0.45" stroke-linejoin="round">1</text>
<text font-family="Liberation Sans" font-weight="bold" font-size="5.000" fill="#000" transform="translate(32.08,283.04) scale(1.2500,1)"  stroke="#000" stroke-width="0.45" stroke-linejoin="round">2</text>
<text font-family="Liberation Sans" font-weight="bold" font-size="5.000" fill="#000" transform="translate(32.05,255.01) scale(1.2500,1)"  stroke="#000" stroke-width="0.45" stroke-linejoin="round">3</text>
<text font-family="Liberation Sans" font-weight="bold" font-size="5.000" fill="#000" transform="translate(31.86,227.02) scale(1.2500,1)"  stroke="#000" stroke-width="0.45" stroke-linejoin="round">4</text>
<polyline points="57.57,240.27 58.21,240.28 58.85,240.28 59.50,240.28 60.14,240.28 60.78,240.28 61.42,240.28 62.07,240.28 62.71,240.28 63.35,240.28 64.00,240.28 64.64,240.28 65.28,240.28 65.93,240.28 66.57,240.28 67.21,240.29 67.86,240.29 68.50,240.29 69.14,240.29 69.79,240.29 70.43,240.29 71.07,240.30 71.71,240.30 72.36,240.30 73.00,240.30 73.64,240.31 74.29,240.31 74.93,240.31 75.57,240.32 76.22,240.32 76.86,240.32 77.50,240.33 78.15,240.33 78.79,240.34 79.43,240.35 80.08,240.35 80.72,240.36 81.36,240.37 82.01,240.38 82.65,240.39 83.29,240.40 83.93,240.41 84.58,240.42 85.22,240.43 85.86,240.45 86.51,240.46 87.15,240.48 87.79,240.50 88.44,240.52 89.08,240.54 89.72,240.57 90.37,240.59 91.01,240.62 91.65,240.65 92.30,240.69 92.94,240.72 93.58,240.76 94.22,240.81 94.87,240.85 95.51,240.90 96.15,240.96 96.80,241.02 97.44,241.09 98.08,241.16 98.73,241.24 99.37,241.32 100.01,241.41 100.66,241.51 101.30,241.62 101.94,241.74 102.59,241.87 103.23,242.00 103.87,242.15 104.51,242.32 105.16,242.49 105.80,242.69 106.44,242.89 107.09,243.12 107.73,243.36 108.37,243.63 109.02,243.91 109.66,244.22 110.30,244.56 110.95,244.92 111.59,245.31 112.23,245.73 112.88,246.18 113.52,246.67 114.16,247.19 114.81,247.75 115.45,248.36 116.09,249.01 116.73,249.70 117.38,250.44 118.02,251.24 118.66,252.09 119.31,252.99 119.95,253.95 120.59,254.97 121.24,256.04 121.88,257.18 122.52,258.39 123.17,259.66 123.81,260.99 124.45,262.38 125.10,263.84 125.74,265.36 126.38,266.94 127.02,268.57 127.67,270.26 128.31,272.01 128.95,273.79 129.60,275.62 130.24,277.49 130.88,279.39 131.53,281.31 132.17,283.24 132.81,285.19 133.46,287.15 134.10,289.10 134.74,291.04 135.39,292.96 136.03,294.86 136.67,296.73 137.31,298.57 137.96,300.36 138.60,302.11 139.24,303.81 139.89,305.45 140.53,307.04 141.17,308.57 141.82,310.03 142.46,311.43 143.10,312.77 143.75,314.05 144.39,315.26 145.03,316.41 145.68,317.50 146.32,318.52 146.96,319.49 147.60,320.40 148.25,321.26 148.89,322.06 149.53,322.81 150.18,323.51 150.82,324.16 151.46,324.77 152.11,325.34 152.75,325.87 153.39,326.36 154.04,326.82 154.68,327.24 155.32,327.64 155.97,328.00 156.61,328.34 157.25,328.65 157.90,328.94 158.54,329.21 159.18,329.45 159.82,329.68 160.47,329.89 161.11,330.09 161.75,330.26 162.40,330.43 163.04,330.58 163.68,330.72 164.33,330.85 164.97,330.97 165.61,331.08 166.26,331.18 166.90,331.27 167.54,331.36 168.19,331.44 168.83,331.51 169.47,331.58 170.11,331.64 170.76,331.69 171.40,331.75 172.04,331.79 172.69,331.84 173.33,331.88 173.97,331.91 174.62,331.95 175.26,331.98 175.90,332.01 176.55,332.03 177.19,332.06 177.83,332.08 178.48,332.10 179.12,332.12 179.76,332.14 180.40,332.15 181.05,332.17 181.69,332.18 182.33,332.19 182.98,332.21 183.62,332.22 184.26,332.23 184.91,332.23 185.55,332.24" fill="none" stroke="#000" stroke-width="1.3" stroke-linejoin="round" stroke-linecap="round" />
<line x1="59.25" y1="240.84" x2="59.25" y2="249.35" stroke="#000" stroke-width="1.1" />
<line x1="56.85" y1="240.84" x2="61.65" y2="240.84" stroke="#000" stroke-width="1.2" />
<line x1="56.85" y1="249.35" x2="61.65" y2="249.35" stroke="#000" stroke-width="1.2" />
<circle cx="59.25" cy="245.09" r="2.3" fill="#000"/>
<line x1="84.51" y1="235.63" x2="84.51" y2="239.55" stroke="#000" stroke-width="1.1" />
<line x1="82.11" y1="235.63" x2="86.91" y2="235.63" stroke="#000" stroke-width="1.2" />
<line x1="82.11" y1="239.55" x2="86.91" y2="239.55" stroke="#000" stroke-width="1.2" />
<circle cx="84.51" cy="237.59" r="2.3" fill="#000"/>
<line x1="109.77" y1="241.12" x2="109.77" y2="244.48" stroke="#000" stroke-width="1.1" />
<line x1="107.37" y1="241.12" x2="112.17" y2="241.12" stroke="#000" stroke-width="1.2" />
<line x1="107.37" y1="244.48" x2="112.17" y2="244.48" stroke="#000" stroke-width="1.2" />
<circle cx="109.77" cy="242.80" r="2.3" fill="#000"/>
<circle cx="135.03" cy="291.46" r="2.3" fill="#000"/>
<circle cx="160.29" cy="327.75" r="2.3" fill="#000"/>
<circle cx="185.55" cy="334.30" r="2.3" fill="#000"/>
<text font-family="Liberation Sans" font-weight="bold" font-size="18.503" fill="#000" transform="translate(-0.59,218.41) scale(1.0702,1)"  stroke="#000" stroke-width="0.6" stroke-linejoin="round">b</text>
<text font-family="Liberation Sans" font-weight="bold" font-size="10.293" fill="#000" transform="translate(23.14,331.86) rotate(-90) scale(1.0525,1)"  stroke="#000" stroke-width="0.55" stroke-linejoin="round">NRG1-driven signal</text>
<text font-family="Liberation Sans" font-weight="bold" font-size="9.173" fill="#000" transform="translate(67.62,358.10) scale(1.1809,1)"  stroke="#000" stroke-width="0.5" stroke-linejoin="round">Log Lapatinib (nM)</text>
<line x1="273.60" y1="355.00" x2="273.60" y2="225.40" stroke="#000" stroke-width="1.3" stroke-linecap="square"/>
<line x1="273.60" y1="333.40" x2="469.08" y2="333.40" stroke="#000" stroke-width="1.3" stroke-linecap="square"/>
<line x1="271.60" y1="355.00" x2="273.60" y2="355.00" stroke="#000" stroke-width="1.1" />
<line x1="271.60" y1="333.40" x2="273.60" y2="333.40" stroke="#000" stroke-width="1.1" />
<line x1="271.60" y1="311.80" x2="273.60" y2="311.80" stroke="#000" stroke-width="1.1" />
<line x1="271.60" y1="290.20" x2="273.60" y2="290.20" stroke="#000" stroke-width="1.1" />
<line x1="271.60" y1="268.60" x2="273.60" y2="268.60" stroke="#000" stroke-width="1.1" />
<line x1="271.60" y1="247.00" x2="273.60" y2="247.00" stroke="#000" stroke-width="1.1" />
<line x1="271.60" y1="225.40" x2="273.60" y2="225.40" stroke="#000" stroke-width="1.1" />
<line x1="273.60" y1="333.40" x2="273.60" y2="335.40" stroke="#000" stroke-width="1.1" />
<line x1="322.47" y1="333.40" x2="322.47" y2="335.40" stroke="#000" stroke-width="1.1" />
<line x1="371.34" y1="333.40" x2="371.34" y2="335.40" stroke="#000" stroke-width="1.1" />
<line x1="420.21" y1="333.40" x2="420.21" y2="335.40" stroke="#000" stroke-width="1.1" />
<line x1="469.08" y1="333.40" x2="469.08" y2="335.40" stroke="#000" stroke-width="1.1" />
<text font-family="Liberation Sans" font-weight="bold" font-size="6.500" fill="#000" transform="translate(319.86,345.23) scale(1.0500,1)"  stroke="#000" stroke-width="0.45" stroke-linejoin="round">1</text>
<text font-family="Liberation Sans" font-weight="bold" font-size="6.500" fill="#000" transform="translate(368.86,345.27) scale(1.0500,1)"  stroke="#000" stroke-width="0.45" stroke-linejoin="round">2</text>
<text font-family="Liberation Sans" font-weight="bold" font-size="6.500" fill="#000" transform="translate(417.76,345.23) scale(1.0500,1)"  stroke="#000" stroke-width="0.45" stroke-linejoin="round">3</text>
<text font-family="Liberation Sans" font-weight="bold" font-size="6.500" fill="#000" transform="translate(466.55,345.23) scale(1.0500,1)"  stroke="#000" stroke-width="0.45" stroke-linejoin="round">4</text>
<text font-family="Liberation Sans" font-weight="bold" font-size="6.000" fill="#000" transform="translate(255.56,357.26) scale(1.4200,1)"  stroke="#000" stroke-width="0.45" stroke-linejoin="round">-0.5</text>
<text font-family="Liberation Sans" font-weight="bold" font-size="6.000" fill="#000" transform="translate(258.50,335.66) scale(1.4200,1)"  stroke="#000" stroke-width="0.45" stroke-linejoin="round">0.0</text>
<text font-family="Liberation Sans" font-weight="bold" font-size="6.000" fill="#000" transform="translate(258.39,314.06) scale(1.4200,1)"  stroke="#000" stroke-width="0.45" stroke-linejoin="round">0.5</text>
<text font-family="Liberation Sans" font-weight="bold" font-size="6.000" fill="#000" transform="translate(258.50,292.46) scale(1.4200,1)"  stroke="#000" stroke-width="0.45" stroke-linejoin="round">1.0</text>
<text font-family="Liberation Sans" font-weight="bold" font-size="6.000" fill="#000" transform="translate(258.39,270.83) scale(1.4200,1)"  stroke="#000" stroke-width="0.45" stroke-linejoin="round">1.5</text>
<text font-family="Liberation Sans" font-weight="bold" font-size="6.000" fill="#000" transform="translate(258.50,249.26) scale(1.4200,1)"  stroke="#000" stroke-width="0.45" stroke-linejoin="round">2.0</text>
<text font-family="Liberation Sans" font-weight="bold" font-size="6.000" fill="#000" transform="translate(258.39,227.66) scale(1.4200,1)"  stroke="#000" stroke-width="0.45" stroke-linejoin="round">2.5</text>
<polyline points="298.04,245.76 298.77,245.77 299.51,245.78 300.25,245.79 300.98,245.80 301.72,245.81 302.46,245.82 303.19,245.84 303.93,245.85 304.67,245.86 305.40,245.88 306.14,245.90 306.88,245.91 307.61,245.93 308.35,245.95 309.09,245.97 309.82,245.99 310.56,246.02 311.30,246.04 312.03,246.07 312.77,246.10 313.51,246.13 314.24,246.16 314.98,246.20 315.72,246.24 316.45,246.28 317.19,246.32 317.93,246.36 318.66,246.41 319.40,246.46 320.14,246.52 320.87,246.58 321.61,246.64 322.35,246.70 323.08,246.77 323.82,246.85 324.56,246.93 325.29,247.01 326.03,247.10 326.77,247.20 327.50,247.30 328.24,247.41 328.98,247.53 329.71,247.65 330.45,247.78 331.19,247.92 331.92,248.07 332.66,248.22 333.40,248.39 334.13,248.57 334.87,248.76 335.61,248.96 336.35,249.17 337.08,249.40 337.82,249.63 338.56,249.89 339.29,250.16 340.03,250.44 340.77,250.74 341.50,251.06 342.24,251.40 342.98,251.76 343.71,252.14 344.45,252.54 345.19,252.96 345.92,253.40 346.66,253.87 347.40,254.37 348.13,254.89 348.87,255.44 349.61,256.01 350.34,256.62 351.08,257.25 351.82,257.92 352.55,258.62 353.29,259.35 354.03,260.11 354.76,260.91 355.50,261.74 356.24,262.61 356.97,263.51 357.71,264.45 358.45,265.42 359.18,266.43 359.92,267.47 360.66,268.55 361.39,269.66 362.13,270.81 362.87,271.99 363.60,273.19 364.34,274.43 365.08,275.70 365.81,276.99 366.55,278.31 367.29,279.65 368.02,281.01 368.76,282.39 369.50,283.78 370.23,285.19 370.97,286.60 371.71,288.02 372.45,289.45 373.18,290.87 373.92,292.30 374.66,293.72 375.39,295.13 376.13,296.53 376.87,297.92 377.60,299.29 378.34,300.64 379.08,301.97 379.81,303.28 380.55,304.56 381.29,305.82 382.02,307.05 382.76,308.24 383.50,309.41 384.23,310.54 384.97,311.64 385.71,312.70 386.44,313.73 387.18,314.73 387.92,315.69 388.65,316.61 389.39,317.50 390.13,318.35 390.86,319.17 391.60,319.96 392.34,320.71 393.07,321.42 393.81,322.11 394.55,322.76 395.28,323.39 396.02,323.98 396.76,324.55 397.49,325.08 398.23,325.60 398.97,326.08 399.70,326.54 400.44,326.97 401.18,327.39 401.91,327.78 402.65,328.15 403.39,328.50 404.12,328.83 404.86,329.14 405.60,329.44 406.33,329.71 407.07,329.98 407.81,330.23 408.55,330.46 409.28,330.68 410.02,330.89 410.76,331.08 411.49,331.27 412.23,331.44 412.97,331.60 413.70,331.76 414.44,331.90 415.18,332.04 415.91,332.17 416.65,332.29 417.39,332.40 418.12,332.50 418.86,332.60 419.60,332.70 420.33,332.79 421.07,332.87 421.81,332.95 422.54,333.02 423.28,333.09 424.02,333.15 424.75,333.21 425.49,333.27 426.23,333.32 426.96,333.37 427.70,333.42 428.44,333.46 429.17,333.50 429.91,333.54 430.65,333.58 431.38,333.61 432.12,333.65 432.86,333.68 433.59,333.70 434.33,333.73 435.07,333.76 435.80,333.78 436.54,333.80 437.28,333.82 438.01,333.84 438.75,333.86 439.49,333.88 440.22,333.89 440.96,333.91 441.70,333.92 442.43,333.93 443.17,333.95 443.91,333.96 444.64,333.97" fill="none" stroke="#000" stroke-width="1.3" stroke-linejoin="round" stroke-linecap="round" />
<circle cx="298.04" cy="245.79" r="2.3" fill="#000"/>
<circle cx="327.36" cy="249.29" r="2.3" fill="#000"/>
<line x1="356.68" y1="257.50" x2="356.68" y2="266.92" stroke="#000" stroke-width="1.1" />
<line x1="354.28" y1="257.50" x2="359.08" y2="257.50" stroke="#000" stroke-width="1.2" />
<line x1="354.28" y1="266.92" x2="359.08" y2="266.92" stroke="#000" stroke-width="1.2" />
<circle cx="356.68" cy="262.21" r="2.3" fill="#000"/>
<circle cx="386.00" cy="313.10" r="2.3" fill="#000"/>
<circle cx="415.32" cy="332.10" r="2.3" fill="#000"/>
<circle cx="444.64" cy="333.10" r="2.3" fill="#000"/>
<text font-family="Liberation Sans" font-weight="bold" font-size="10.507" fill="#000" transform="translate(248.09,336.95) rotate(-90) scale(1.0202,1)"  stroke="#000" stroke-width="0.55" stroke-linejoin="round">EGF-driven signal</text>
<text font-family="Liberation Sans" font-weight="bold" font-size="9.813" fill="#000" transform="translate(314.81,358.86) scale(1.1097,1)"  stroke="#000" stroke-width="0.5" stroke-linejoin="round">Log Lapatinib (nM)</text>
<line x1="42.00" y1="519.00" x2="42.00" y2="395.50" stroke="#000" stroke-width="1.3" stroke-linecap="square"/>
<line x1="42.00" y1="519.00" x2="237.60" y2="519.00" stroke="#000" stroke-width="1.3" stroke-linecap="square"/>
<line x1="40.00" y1="519.00" x2="42.00" y2="519.00" stroke="#000" stroke-width="1.1" />
<line x1="40.00" y1="494.30" x2="42.00" y2="494.30" stroke="#000" stroke-width="1.1" />
<line x1="40.00" y1="469.60" x2="42.00" y2="469.60" stroke="#000" stroke-width="1.1" />
<line x1="40.00" y1="444.90" x2="42.00" y2="444.90" stroke="#000" stroke-width="1.1" />
<line x1="40.00" y1="420.20" x2="42.00" y2="420.20" stroke="#000" stroke-width="1.1" />
<line x1="40.00" y1="395.50" x2="42.00" y2="395.50" stroke="#000" stroke-width="1.1" />
<line x1="42.00" y1="519.00" x2="42.00" y2="521.00" stroke="#000" stroke-width="1.1" />
<line x1="90.90" y1="519.00" x2="90.90" y2="521.00" stroke="#000" stroke-width="1.1" />
<line x1="139.80" y1="519.00" x2="139.80" y2="521.00" stroke="#000" stroke-width="1.1" />
<line x1="188.70" y1="519.00" x2="188.70" y2="521.00" stroke="#000" stroke-width="1.1" />
<line x1="237.60" y1="519.00" x2="237.60" y2="521.00" stroke="#000" stroke-width="1.1" />
<text font-family="Liberation Sans" font-weight="bold" font-size="6.000" fill="#000" transform="translate(36.08,530.26) scale(1.4200,1)"  stroke="#000" stroke-width="0.45" stroke-linejoin="round">0.0</text>
<text font-family="Liberation Sans" font-weight="bold" font-size="6.000" fill="#000" transform="translate(84.93,530.26) scale(1.4200,1)"  stroke="#000" stroke-width="0.45" stroke-linejoin="round">0.5</text>
<text font-family="Liberation Sans" font-weight="bold" font-size="6.000" fill="#000" transform="translate(133.78,530.26) scale(1.4200,1)"  stroke="#000" stroke-width="0.45" stroke-linejoin="round">1.0</text>
<text font-family="Liberation Sans" font-weight="bold" font-size="6.000" fill="#000" transform="translate(182.63,530.23) scale(1.4200,1)"  stroke="#000" stroke-width="0.45" stroke-linejoin="round">1.5</text>
<text font-family="Liberation Sans" font-weight="bold" font-size="6.000" fill="#000" transform="translate(231.70,530.26) scale(1.4200,1)"  stroke="#000" stroke-width="0.45" stroke-linejoin="round">2.0</text>
<text font-family="Liberation Sans" font-weight="bold" font-size="6.000" fill="#000" transform="translate(26.50,521.26) scale(1.4200,1)"  stroke="#000" stroke-width="0.45" stroke-linejoin="round">0.0</text>
<text font-family="Liberation Sans" font-weight="bold" font-size="6.000" fill="#000" transform="translate(26.39,496.56) scale(1.4200,1)"  stroke="#000" stroke-width="0.45" stroke-linejoin="round">0.5</text>
<text font-family="Liberation Sans" font-weight="bold" font-size="6.000" fill="#000" transform="translate(26.50,471.86) scale(1.4200,1)"  stroke="#000" stroke-width="0.45" stroke-linejoin="round">1.0</text>
<text font-family="Liberation Sans" font-weight="bold" font-size="6.000" fill="#000" transform="translate(26.39,447.13) scale(1.4200,1)"  stroke="#000" stroke-width="0.45" stroke-linejoin="round">1.5</text>
<text font-family="Liberation Sans" font-weight="bold" font-size="6.000" fill="#000" transform="translate(26.50,422.46) scale(1.4200,1)"  stroke="#000" stroke-width="0.45" stroke-linejoin="round">2.0</text>
<text font-family="Liberation Sans" font-weight="bold" font-size="6.000" fill="#000" transform="translate(26.39,397.76) scale(1.4200,1)"  stroke="#000" stroke-width="0.45" stroke-linejoin="round">2.5</text>
<polyline points="51.78,417.56 52.52,417.57 53.25,417.57 53.99,417.58 54.73,417.59 55.47,417.60 56.20,417.61 56.94,417.62 57.68,417.63 58.41,417.64 59.15,417.66 59.89,417.67 60.63,417.68 61.36,417.69 62.10,417.71 62.84,417.72 63.57,417.74 64.31,417.75 65.05,417.77 65.79,417.79 66.52,417.81 67.26,417.83 68.00,417.85 68.74,417.87 69.47,417.89 70.21,417.91 70.95,417.94 71.68,417.96 72.42,417.99 73.16,418.01 73.90,418.04 74.63,418.07 75.37,418.10 76.11,418.13 76.84,418.17 77.58,418.20 78.32,418.24 79.06,418.28 79.79,418.32 80.53,418.36 81.27,418.40 82.00,418.45 82.74,418.49 83.48,418.54 84.22,418.59 84.95,418.65 85.69,418.70 86.43,418.76 87.16,418.82 87.90,418.89 88.64,418.95 89.38,419.02 90.11,419.09 90.85,419.17 91.59,419.25 92.33,419.33 93.06,419.41 93.80,419.50 94.54,419.59 95.27,419.69 96.01,419.79 96.75,419.89 97.49,420.00 98.22,420.11 98.96,420.23 99.70,420.35 100.43,420.48 101.17,420.61 101.91,420.75 102.65,420.89 103.38,421.04 104.12,421.19 104.86,421.35 105.59,421.52 106.33,421.69 107.07,421.87 107.81,422.06 108.54,422.25 109.28,422.45 110.02,422.66 110.75,422.88 111.49,423.10 112.23,423.34 112.97,423.58 113.70,423.83 114.44,424.09 115.18,424.35 115.92,424.63 116.65,424.92 117.39,425.21 118.13,425.52 118.86,425.83 119.60,426.16 120.34,426.50 121.08,426.84 121.81,427.20 122.55,427.57 123.29,427.95 124.02,428.34 124.76,428.74 125.50,429.15 126.24,429.58 126.97,430.02 127.71,430.46 128.45,430.92 129.18,431.39 129.92,431.88 130.66,432.37 131.40,432.87 132.13,433.39 132.87,433.92 133.61,434.45 134.34,435.00 135.08,435.56 135.82,436.13 136.56,436.71 137.29,437.30 138.03,437.89 138.77,438.50 139.51,439.12 140.24,439.74 140.98,440.37 141.72,441.01 142.45,441.65 143.19,442.30 143.93,442.96 144.67,443.62 145.40,444.28 146.14,444.95 146.88,445.62 147.61,446.30 148.35,446.97 149.09,447.65 149.83,448.33 150.56,449.01 151.30,449.68 152.04,450.36 152.77,451.03 153.51,451.70 154.25,452.37 154.99,453.03 155.72,453.69 156.46,454.35 157.20,455.00 157.93,455.64 158.67,456.27 159.41,456.90 160.15,457.52 160.88,458.13 161.62,458.74 162.36,459.33 163.10,459.91 163.83,460.49 164.57,461.05 165.31,461.61 166.04,462.15 166.78,462.69 167.52,463.21 168.26,463.72 168.99,464.22 169.73,464.71 170.47,465.19 171.20,465.66 171.94,466.11 172.68,466.55 173.42,466.99 174.15,467.41 174.89,467.82 175.63,468.21 176.36,468.60 177.10,468.98 177.84,469.34 178.58,469.69 179.31,470.04 180.05,470.37 180.79,470.69 181.52,471.00 182.26,471.31 183.00,471.60 183.74,471.88 184.47,472.15 185.21,472.42 185.95,472.67 186.69,472.92 187.42,473.16 188.16,473.39 188.90,473.61 189.63,473.82 190.37,474.03 191.11,474.23 191.85,474.42 192.58,474.60 193.32,474.78 194.06,474.95 194.79,475.11 195.53,475.27 196.27,475.42 197.01,475.57 197.74,475.71 198.48,475.85" fill="none" stroke="#000" stroke-width="1.3" stroke-linejoin="round" stroke-linecap="round" />
<line x1="51.78" y1="419.95" x2="51.78" y2="435.07" stroke="#000" stroke-width="1.1" />
<line x1="49.38" y1="419.95" x2="54.18" y2="419.95" stroke="#000" stroke-width="1.2" />
<line x1="49.38" y1="435.07" x2="54.18" y2="435.07" stroke="#000" stroke-width="1.2" />
<circle cx="51.78" cy="427.51" r="2.3" fill="#000"/>
<line x1="81.12" y1="404.89" x2="81.12" y2="410.32" stroke="#000" stroke-width="1.1" />
<line x1="78.72" y1="404.89" x2="83.52" y2="404.89" stroke="#000" stroke-width="1.2" />
<line x1="78.72" y1="410.32" x2="83.52" y2="410.32" stroke="#000" stroke-width="1.2" />
<circle cx="81.12" cy="407.60" r="2.3" fill="#000"/>
<line x1="110.46" y1="418.13" x2="110.46" y2="427.71" stroke="#000" stroke-width="1.1" />
<line x1="108.06" y1="418.13" x2="112.86" y2="418.13" stroke="#000" stroke-width="1.2" />
<line x1="108.06" y1="427.71" x2="112.86" y2="427.71" stroke="#000" stroke-width="1.2" />
<circle cx="110.46" cy="422.92" r="2.3" fill="#000"/>
<line x1="139.80" y1="435.02" x2="139.80" y2="441.94" stroke="#000" stroke-width="1.1" />
<line x1="137.40" y1="435.02" x2="142.20" y2="435.02" stroke="#000" stroke-width="1.2" />
<line x1="137.40" y1="441.94" x2="142.20" y2="441.94" stroke="#000" stroke-width="1.2" />
<circle cx="139.80" cy="438.48" r="2.3" fill="#000"/>
<line x1="169.14" y1="456.56" x2="169.14" y2="464.46" stroke="#000" stroke-width="1.1" />
<line x1="166.74" y1="456.56" x2="171.54" y2="456.56" stroke="#000" stroke-width="1.2" />
<line x1="166.74" y1="464.46" x2="171.54" y2="464.46" stroke="#000" stroke-width="1.2" />
<circle cx="169.14" cy="460.51" r="2.3" fill="#000"/>
<line x1="198.48" y1="471.23" x2="198.48" y2="480.42" stroke="#000" stroke-width="1.1" />
<line x1="196.08" y1="471.23" x2="200.88" y2="471.23" stroke="#000" stroke-width="1.2" />
<line x1="196.08" y1="480.42" x2="200.88" y2="480.42" stroke="#000" stroke-width="1.2" />
<circle cx="198.48" cy="475.82" r="2.3" fill="#000"/>
<text font-family="Liberation Sans" font-weight="bold" font-size="17.900" fill="#000" transform="translate(-1.14,391.32) scale(1.1689,1)"  stroke="#000" stroke-width="0.6" stroke-linejoin="round">c</text>
<text font-family="Liberation Sans" font-weight="bold" font-size="10.613" fill="#000" transform="translate(17.37,505.58) rotate(-90) scale(1.0538,1)"  stroke="#000" stroke-width="0.55" stroke-linejoin="round">NRG1-driven signal</text>
<text font-family="Liberation Sans" font-weight="bold" font-size="10.027" fill="#000" transform="translate(70.84,545.92) scale(1.0563,1)"  stroke="#000" stroke-width="0.5" stroke-linejoin="round">Log Pertuzumab (µg/ml)</text>
<line x1="282.00" y1="520.70" x2="282.00" y2="402.95" stroke="#000" stroke-width="1.3" stroke-linecap="square"/>
<line x1="282.00" y1="520.70" x2="467.20" y2="520.70" stroke="#000" stroke-width="1.3" stroke-linecap="square"/>
<line x1="280.00" y1="520.70" x2="282.00" y2="520.70" stroke="#000" stroke-width="1.1" />
<line x1="280.00" y1="481.45" x2="282.00" y2="481.45" stroke="#000" stroke-width="1.1" />
<line x1="280.00" y1="442.20" x2="282.00" y2="442.20" stroke="#000" stroke-width="1.1" />
<line x1="280.00" y1="402.95" x2="282.00" y2="402.95" stroke="#000" stroke-width="1.1" />
<line x1="282.00" y1="520.70" x2="282.00" y2="522.70" stroke="#000" stroke-width="1.1" />
<line x1="328.30" y1="520.70" x2="328.30" y2="522.70" stroke="#000" stroke-width="1.1" />
<line x1="374.60" y1="520.70" x2="374.60" y2="522.70" stroke="#000" stroke-width="1.1" />
<line x1="420.90" y1="520.70" x2="420.90" y2="522.70" stroke="#000" stroke-width="1.1" />
<line x1="467.20" y1="520.70" x2="467.20" y2="522.70" stroke="#000" stroke-width="1.1" />
<text font-family="Liberation Sans" font-weight="bold" font-size="5.600" fill="#000" transform="translate(276.47,530.82) scale(1.4200,1)"  stroke="#000" stroke-width="0.45" stroke-linejoin="round">0.0</text>
<text font-family="Liberation Sans" font-weight="bold" font-size="5.600" fill="#000" transform="translate(322.72,530.82) scale(1.4200,1)"  stroke="#000" stroke-width="0.45" stroke-linejoin="round">0.5</text>
<text font-family="Liberation Sans" font-weight="bold" font-size="5.600" fill="#000" transform="translate(368.98,530.82) scale(1.4200,1)"  stroke="#000" stroke-width="0.45" stroke-linejoin="round">1.0</text>
<text font-family="Liberation Sans" font-weight="bold" font-size="5.600" fill="#000" transform="translate(415.23,530.80) scale(1.4200,1)"  stroke="#000" stroke-width="0.45" stroke-linejoin="round">1.5</text>
<text font-family="Liberation Sans" font-weight="bold" font-size="5.600" fill="#000" transform="translate(461.69,530.82) scale(1.4200,1)"  stroke="#000" stroke-width="0.45" stroke-linejoin="round">2.0</text>
<text font-family="Liberation Sans" font-weight="bold" font-size="5.600" fill="#000" transform="translate(267.96,522.83) scale(1.4200,1)"  stroke="#000" stroke-width="0.45" stroke-linejoin="round">0.0</text>
<text font-family="Liberation Sans" font-weight="bold" font-size="5.600" fill="#000" transform="translate(267.87,483.58) scale(1.4200,1)"  stroke="#000" stroke-width="0.45" stroke-linejoin="round">0.5</text>
<text font-family="Liberation Sans" font-weight="bold" font-size="5.600" fill="#000" transform="translate(267.96,444.33) scale(1.4200,1)"  stroke="#000" stroke-width="0.45" stroke-linejoin="round">1.0</text>
<text font-family="Liberation Sans" font-weight="bold" font-size="5.600" fill="#000" transform="translate(267.87,405.05) scale(1.4200,1)"  stroke="#000" stroke-width="0.45" stroke-linejoin="round">1.5</text>
<polyline points="291.26,432.05 291.96,432.05 292.66,432.05 293.35,432.05 294.05,432.05 294.75,432.05 295.45,432.05 296.15,432.05 296.84,432.05 297.54,432.05 298.24,432.05 298.94,432.05 299.64,432.05 300.33,432.05 301.03,432.05 301.73,432.05 302.43,432.05 303.13,432.05 303.82,432.05 304.52,432.05 305.22,432.05 305.92,432.05 306.62,432.05 307.31,432.05 308.01,432.05 308.71,432.05 309.41,432.05 310.11,432.05 310.80,432.05 311.50,432.05 312.20,432.05 312.90,432.05 313.60,432.05 314.29,432.05 314.99,432.05 315.69,432.05 316.39,432.05 317.09,432.05 317.78,432.05 318.48,432.05 319.18,432.05 319.88,432.05 320.58,432.05 321.27,432.05 321.97,432.05 322.67,432.05 323.37,432.05 324.07,432.05 324.76,432.05 325.46,432.05 326.16,432.05 326.86,432.05 327.56,432.05 328.25,432.05 328.95,432.05 329.65,432.05 330.35,432.05 331.05,432.05 331.74,432.05 332.44,432.05 333.14,432.05 333.84,432.05 334.54,432.05 335.23,432.05 335.93,432.05 336.63,432.05 337.33,432.05 338.03,432.05 338.72,432.05 339.42,432.05 340.12,432.05 340.82,432.05 341.52,432.05 342.21,432.05 342.91,432.05 343.61,432.05 344.31,432.05 345.01,432.05 345.70,432.05 346.40,432.05 347.10,432.05 347.80,432.05 348.50,432.05 349.19,432.05 349.89,432.05 350.59,432.05 351.29,432.05 351.99,432.05 352.68,432.05 353.38,432.05 354.08,432.05 354.78,432.05 355.48,432.05 356.17,432.05 356.87,432.05 357.57,432.05 358.27,432.05 358.97,432.05 359.66,432.05 360.36,432.05 361.06,432.05 361.76,432.05 362.45,432.05 363.15,432.05 363.85,432.05 364.55,432.05 365.25,432.05 365.94,432.05 366.64,432.05 367.34,432.05 368.04,432.05 368.74,432.05 369.43,432.05 370.13,432.05 370.83,432.05 371.53,432.05 372.23,432.05 372.92,432.05 373.62,432.05 374.32,432.05 375.02,432.05 375.72,432.05 376.41,432.05 377.11,432.05 377.81,432.05 378.51,432.05 379.21,432.05 379.90,432.05 380.60,432.05 381.30,432.05 382.00,432.05 382.70,432.05 383.39,432.05 384.09,432.06 384.79,432.06 385.49,432.06 386.19,432.06 386.88,432.07 387.58,432.07 388.28,432.08 388.98,432.09 389.68,432.10 390.37,432.12 391.07,432.15 391.77,432.18 392.47,432.22 393.17,432.28 393.86,432.36 394.56,432.46 395.26,432.59 395.96,432.77 396.66,433.01 397.35,433.31 398.05,433.71 398.75,434.22 399.45,434.87 400.15,435.69 400.84,436.69 401.54,437.90 402.24,439.32 402.94,440.93 403.64,442.70 404.33,444.56 405.03,446.44 405.73,448.27 406.43,449.98 407.13,451.51 407.82,452.83 408.52,453.95 409.22,454.87 409.92,455.61 410.62,456.19 411.31,456.65 412.01,457.00 412.71,457.28 413.41,457.48 414.11,457.64 414.80,457.76 415.50,457.85 416.20,457.92 416.90,457.97 417.60,458.01 418.29,458.03 418.99,458.06 419.69,458.07 420.39,458.08 421.09,458.09 421.78,458.10 422.48,458.10 423.18,458.11 423.88,458.11 424.58,458.11 425.27,458.12 425.97,458.12 426.67,458.12 427.37,458.12 428.07,458.12 428.76,458.12 429.46,458.12 430.16,458.12" fill="none" stroke="#000" stroke-width="1.3" stroke-linejoin="round" stroke-linecap="round" />
<line x1="291.26" y1="440.39" x2="291.26" y2="447.46" stroke="#000" stroke-width="1.1" />
<line x1="288.86" y1="440.39" x2="293.66" y2="440.39" stroke="#000" stroke-width="1.2" />
<line x1="288.86" y1="447.46" x2="293.66" y2="447.46" stroke="#000" stroke-width="1.2" />
<circle cx="291.26" cy="443.93" r="2.3" fill="#000"/>
<line x1="319.04" y1="421.32" x2="319.04" y2="432.94" stroke="#000" stroke-width="1.1" />
<line x1="316.64" y1="421.32" x2="321.44" y2="421.32" stroke="#000" stroke-width="1.2" />
<line x1="316.64" y1="432.94" x2="321.44" y2="432.94" stroke="#000" stroke-width="1.2" />
<circle cx="319.04" cy="427.13" r="2.3" fill="#000"/>
<line x1="346.82" y1="423.36" x2="346.82" y2="436.86" stroke="#000" stroke-width="1.1" />
<line x1="344.42" y1="423.36" x2="349.22" y2="423.36" stroke="#000" stroke-width="1.2" />
<line x1="344.42" y1="436.86" x2="349.22" y2="436.86" stroke="#000" stroke-width="1.2" />
<circle cx="346.82" cy="430.11" r="2.3" fill="#000"/>
<line x1="374.60" y1="421.16" x2="374.60" y2="433.88" stroke="#000" stroke-width="1.1" />
<line x1="372.20" y1="421.16" x2="377.00" y2="421.16" stroke="#000" stroke-width="1.2" />
<line x1="372.20" y1="433.88" x2="377.00" y2="433.88" stroke="#000" stroke-width="1.2" />
<circle cx="374.60" cy="427.52" r="2.3" fill="#000"/>
<line x1="402.38" y1="433.88" x2="402.38" y2="444.71" stroke="#000" stroke-width="1.1" />
<line x1="399.98" y1="433.88" x2="404.78" y2="433.88" stroke="#000" stroke-width="1.2" />
<line x1="399.98" y1="444.71" x2="404.78" y2="444.71" stroke="#000" stroke-width="1.2" />
<circle cx="402.38" cy="439.30" r="2.3" fill="#000"/>
<line x1="430.16" y1="452.09" x2="430.16" y2="464.18" stroke="#000" stroke-width="1.1" />
<line x1="427.76" y1="452.09" x2="432.56" y2="452.09" stroke="#000" stroke-width="1.2" />
<line x1="427.76" y1="464.18" x2="432.56" y2="464.18" stroke="#000" stroke-width="1.2" />
<circle cx="430.16" cy="458.14" r="2.3" fill="#000"/>
<text font-family="Liberation Sans" font-weight="bold" font-size="10.293" fill="#000" transform="translate(259.04,508.16) rotate(-90) scale(1.0575,1)"  stroke="#000" stroke-width="0.55" stroke-linejoin="round">EGF-driven signal</text>
<text font-family="Liberation Sans" font-weight="bold" font-size="10.240" fill="#000" transform="translate(312.00,546.97) scale(1.0879,1)"  stroke="#000" stroke-width="0.5" stroke-linejoin="round">Log Pertuzumab (µg/ml)</text>
</g>
</svg>
</body></html>
